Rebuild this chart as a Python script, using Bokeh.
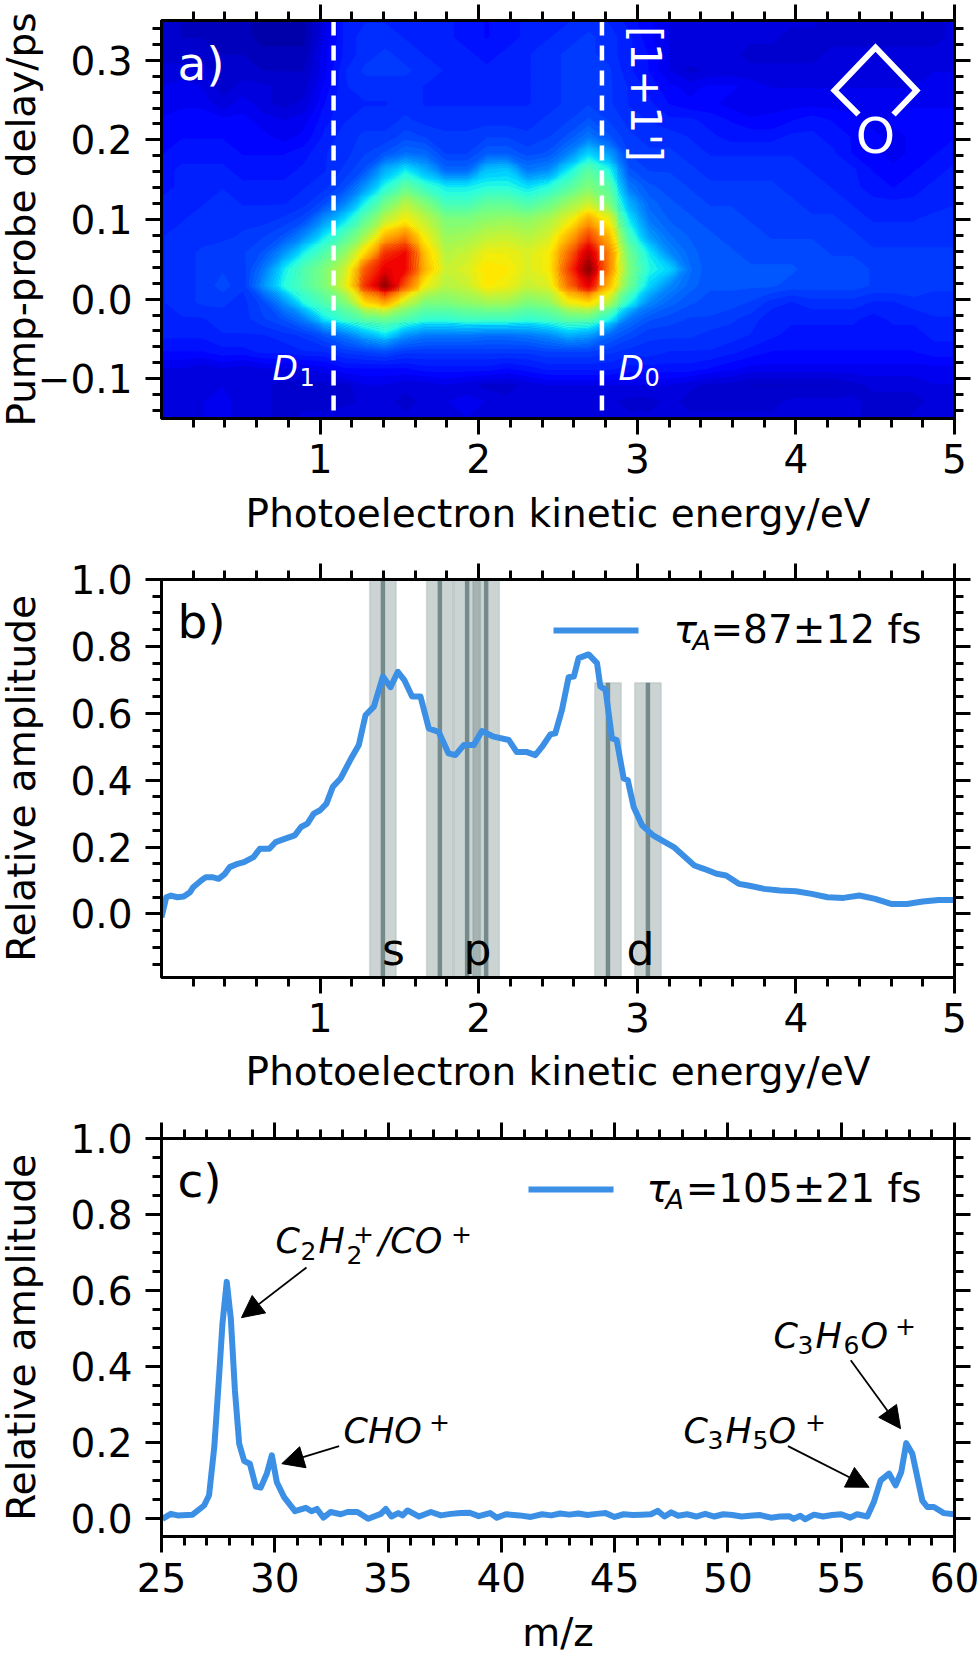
import numpy as np
from bokeh.plotting import figure
from bokeh.layouts import column
from bokeh.embed import file_html
from bokeh.resources import INLINE
from bokeh.models import Range1d, LinearAxis, FixedTicker, LinearColorMapper, Arrow, NormalHead, CustomLabelingPolicy
from bokeh.core.properties import value

# ---------- data ----------
HEAT_ROWS_TOP_DOWN = [  # percent; delay 0.35 ps (top) to -0.15 ps (bottom); 40 energies 0..5 eV
[7,6,5,5,5,4,4,4,9,14,15,15,15,14,14,13,12,13,14,14,15,16,15,13,11,9,8,9,9,8,8,8,8,7,7,7,7,7,7,8],
[7,6,6,6,5,4,4,4,9,14,16,16,15,14,14,13,12,13,14,15,16,17,16,14,11,9,8,9,9,8,8,7,7,7,7,7,7,7,7,8],
[7,7,7,6,6,5,5,5,10,14,16,17,16,15,15,14,13,14,15,16,17,17,16,14,12,9,9,9,8,7,7,7,7,8,8,8,8,8,8,8],
[8,8,8,7,7,6,6,6,10,15,17,17,17,16,15,15,14,15,15,16,17,18,17,14,12,9,7,8,8,8,8,8,8,9,9,9,9,9,9,9],
[9,10,9,7,8,8,7,7,11,15,16,16,16,15,15,14,14,15,15,16,17,18,17,15,13,11,10,11,11,10,9,9,9,9,9,9,9,9,10,10],
[9,10,10,8,10,8,7,8,12,15,15,15,16,15,15,15,15,15,15,16,17,18,17,15,14,12,11,11,10,9,10,10,10,10,10,10,10,10,10,10],
[11,12,12,11,11,10,9,10,13,15,16,16,17,16,16,16,16,16,16,17,18,20,18,16,15,14,14,13,12,11,11,12,13,12,11,10,11,12,12,12],
[11,12,12,12,11,11,10,11,14,16,17,17,19,18,17,17,18,18,17,18,20,24,20,17,16,16,15,14,13,13,13,14,14,13,12,11,10,11,12,12],
[12,13,13,13,12,12,12,13,15,16,18,20,23,22,18,18,21,21,19,20,25,34,28,18,17,17,16,15,15,15,15,15,15,14,12,11,10,11,12,13],
[13,14,14,14,13,13,13,14,15,17,20,30,36,30,22,22,32,33,24,26,36,45,38,20,18,18,17,16,16,16,16,16,15,15,14,12,11,12,13,14],
[13,14,15,15,14,14,14,15,16,19,27,38,46,40,36,36,38,38,35,38,44,50,45,24,20,19,18,17,17,17,17,16,16,15,14,13,12,13,14,14],
[14,15,15,16,15,15,15,16,19,25,37,48,56,50,42,42,46,46,43,47,53,58,50,30,22,20,19,18,18,18,17,17,16,16,15,14,14,14,14,15],
[14,15,16,16,16,16,17,19,27,35,46,57,63,57,50,50,52,53,52,55,61,72,62,36,24,21,20,19,19,18,18,17,17,17,16,15,15,15,16,16],
[15,16,16,16,17,18,20,26,36,44,54,70,76,62,53,54,57,58,56,59,70,82,70,42,28,23,21,20,19,19,18,18,18,18,17,16,16,16,16,16],
[15,16,17,18,18,20,27,37,44,52,66,84,88,68,56,58,62,62,60,63,78,93,76,48,36,26,22,20,20,19,19,19,19,18,18,17,17,17,17,17],
[15,16,17,18,17,24,36,44,50,58,80,90,88,70,58,60,65,64,60,63,82,99,76,50,38,34,23,20,20,20,20,20,19,19,19,18,18,18,17,17],
[15,16,17,19,17,27,38,44,50,60,84,98,80,62,56,58,64,62,58,60,78,90,70,48,34,26,22,20,20,20,20,19,19,19,19,18,18,18,17,17],
[15,16,17,17,16,19,27,38,44,50,66,72,58,50,50,52,54,54,50,52,62,66,56,38,26,22,20,19,19,18,16,15,16,16,16,15,15,16,16,16],
[14,15,15,16,16,18,20,25,36,41,46,48,44,40,40,42,42,42,40,42,46,46,38,24,20,19,18,18,17,16,14,14,14,14,14,13,14,14,15,15],
[14,14,14,15,15,15,16,17,20,24,30,35,27,24,24,24,23,23,24,26,30,28,22,19,17,17,17,16,16,15,14,13,13,13,13,13,13,13,14,14],
[12,12,12,13,13,14,14,15,15,17,18,19,17,17,17,17,17,17,17,18,18,18,17,16,16,15,15,15,14,13,12,12,12,12,12,12,12,12,13,13],
[9,9,8,9,8,9,9,9,10,12,12,12,12,13,13,13,13,12,13,14,14,14,14,13,13,13,13,12,11,10,10,10,10,10,10,10,10,10,10,10],
[8,9,8,9,8,8,7,7,7,7,9,9,8,8,9,8,7,7,8,9,9,9,9,9,9,9,8,7,7,6,6,6,6,6,7,8,8,8,9,9],
[8,9,9,10,8,8,7,7,7,7,8,8,7,8,9,10,9,8,8,8,8,8,8,7,7,8,7,7,7,7,7,8,8,8,8,7,7,7,8,9],
[8,9,9,10,8,8,7,8,8,9,9,9,8,8,9,9,8,8,8,9,9,9,9,8,8,8,8,8,8,8,8,9,9,9,8,7,7,8,8,9],
]
D_LINES = [1.085, 2.777]

B_X = [0.0,0.03,0.06,0.1,0.14,0.18,0.2,0.25,0.28,0.32,0.36,0.4,0.43,0.48,0.52,0.58,0.62,0.68,0.72,0.78,0.84,0.88,0.92,0.96,1.0,1.04,1.08,1.129,1.19,1.244,1.286,1.339,1.396,1.444,1.49,1.53,1.58,1.633,1.685,1.748,1.81,1.853,1.906,1.969,2.02,2.095,2.19,2.24,2.305,2.357,2.40,2.452,2.483,2.525,2.567,2.6,2.63,2.693,2.746,2.767,2.80,2.84,2.87,2.914,2.94,2.977,3.03,3.10,3.155,3.23,3.3,3.36,3.42,3.5,3.56,3.64,3.7,3.8,3.9,4.0,4.1,4.2,4.3,4.4,4.5,4.6,4.7,4.8,4.9,5.0]
B_Y = [-0.01,0.05,0.055,0.05,0.052,0.065,0.08,0.1,0.11,0.11,0.105,0.12,0.14,0.15,0.155,0.17,0.195,0.195,0.215,0.225,0.235,0.26,0.27,0.3,0.31,0.33,0.38,0.405,0.46,0.505,0.594,0.62,0.71,0.678,0.724,0.70,0.65,0.65,0.555,0.544,0.48,0.475,0.505,0.505,0.547,0.53,0.52,0.484,0.484,0.475,0.50,0.537,0.54,0.61,0.708,0.71,0.765,0.776,0.75,0.68,0.67,0.525,0.52,0.405,0.40,0.32,0.265,0.235,0.22,0.2,0.17,0.145,0.135,0.12,0.115,0.09,0.085,0.075,0.07,0.068,0.06,0.05,0.048,0.055,0.045,0.03,0.03,0.037,0.042,0.042]
ORB_S_P = [1.396, 1.755, 1.927, 2.047]
ORB_D = [2.815, 3.067]
ORB_S_P_TOP = 1.0
ORB_D_TOP = 0.691
ORB_HALF = 0.084

C_X = [25.04,25.41,25.71,26.37,26.88,27.1,27.33,27.55,27.69,27.88,28.06,28.24,28.43,28.65,28.9,29.16,29.38,29.65,29.87,30.09,30.41,30.89,31.37,31.62,31.86,32.15,32.47,32.91,33.21,33.65,34.12,34.68,34.9,35.15,35.45,35.64,35.86,36.37,36.89,37.33,37.77,38.2,38.6,39,39.5,39.8,40.2,40.8,41.3,41.8,42.2,42.6,43,43.4,43.8,44.2,44.6,45,45.4,45.8,46.2,46.6,46.9,47.2,47.5,47.8,48.2,48.6,49,49.4,49.8,50.2,50.6,51.1,51.4,51.9,52.3,52.7,52.9,53.2,53.4,53.8,54.2,54.6,55,55.4,55.7,56.15,56.44,56.74,57.11,57.4,57.65,57.87,58.14,58.58,58.8,59.09,59.53,59.97]
C_Y = [0.0,0.013,0.009,0.011,0.035,0.062,0.189,0.382,0.513,0.623,0.526,0.338,0.197,0.152,0.145,0.085,0.082,0.119,0.167,0.096,0.057,0.02,0.029,0.02,0.026,0.003,0.018,0.012,0.018,0.018,0.0,0.013,0.026,0.006,0.015,0.009,0.022,0.006,0.018,0.009,0.013,0.015,0.016,0.007,0.015,0.003,0.012,0.009,0.005,0.012,0.009,0.014,0.011,0.014,0.01,0.013,0.015,0.005,0.012,0.01,0.011,0.012,0.021,0.006,0.017,0.008,0.012,0.006,0.013,0.006,0.012,0.01,0.006,0.009,0.01,0.003,0.006,0.007,0.0,0.008,-0.001,0.011,0.006,0.01,0.012,0.003,0.012,0.006,0.044,0.101,0.119,0.088,0.123,0.199,0.171,0.048,0.031,0.031,0.015,0.012]

ARROWS_C = [  # x_start, y_start, x_tip, y_tip
    (31.4, 0.661, 28.53, 0.529),
    (32.84, 0.191, 30.31, 0.145),
    (55.42, 0.417, 57.62, 0.237),
    (52.65, 0.191, 56.23, 0.083),
]
# ion labels as runs of text: text, left px, baseline px, size px, italic
ION_RUNS = [
    ("C", 275, 1251, 35, True), ("2", 300, 1258, 25, False), ("H", 318, 1251, 35, True), ("2", 346, 1262, 25, False),
    ("+", 352.5, 1241, 25, False), ("/CO", 378, 1251, 35, True), ("+", 450.5, 1241, 25, False),
    ("CHO", 343, 1441.7, 35, True), ("+", 428.5, 1429.5, 25, False),
    ("C", 773, 1346.7, 35, True), ("3", 797, 1352.7, 25, False), ("H", 815, 1346.7, 35, True), ("6", 843, 1352.7, 25, False),
    ("O", 860, 1346.7, 35, True), ("+", 894.5, 1333, 25, False),
    ("C", 683, 1441.7, 35, True), ("3", 707, 1447.7, 25, False), ("H", 725, 1441.7, 35, True), ("5", 752, 1447.7, 25, False),
    ("O", 768, 1441.7, 35, True), ("+", 804.5, 1429.5, 25, False),
]
LEGEND_TAIL = ["=87±12 fs", "=105±21 fs"]

# ---------- style ----------
FONT = "DejaVu Sans"
TICK_PX = "39px"
LABEL_PX = "39px"
BLUE = "#3b90e6"
stops = [(0, (0, 0, 127)), (.11, (0, 0, 255)), (.35, (0, 220, 255)), (.38, (40, 255, 225)), (.5, (124, 255, 122)),
         (.64, (255, 235, 0)), (.75, (255, 140, 0)), (.89, (240, 0, 0)), (1, (127, 0, 0))]
def jet_at(v):
    return "#%02x%02x%02x" % tuple(int(np.interp(v, [s[0] for s in stops], [s[1][i] for s in stops])) for i in range(3))
jet = [jet_at(v) for v in np.linspace(0, 1, 256)]

L, R, FW, FH = 161, 954, 793, 398
DX, DY = 8, 8   # compensation of the page offset


def make(xr, yr, top_border, bot_border):
    p = figure(frame_width=FW, frame_height=FH, x_range=Range1d(*xr), y_range=Range1d(*yr),
               output_backend="svg", toolbar_location=None, min_border_left=L + DX, min_border_right=980 - R,
               min_border_top=top_border, min_border_bottom=bot_border, x_axis_location=None, y_axis_location=None)
    p.grid.visible = False
    p.outline_line_color = "black"
    p.outline_line_width = 3
    p.background_fill_color = "white"
    return p


NO_LABELS = CustomLabelingPolicy(code="for (const i of Array.from(indices)) { indices.unset(i); } return indices;")


def style_axis(a, ticks, minors, overrides, show, label=None, standoff=0, lab_so=0):
    a.ticker = FixedTicker(ticks=ticks, minor_ticks=minors)
    a.major_label_overrides = overrides
    a.axis_line_width = 3
    a.major_tick_line_width = 3
    a.minor_tick_line_width = 3
    a.major_tick_in = 0
    a.minor_tick_in = 0
    a.major_tick_out = 16
    a.minor_tick_out = 9
    a.major_label_text_font = FONT
    a.major_label_text_color = "black"
    a.major_label_standoff = standoff if show else 0
    if show:
        a.major_label_text_font_size = TICK_PX
    else:
        a.major_label_text_font_size = "1px"
        a.major_label_policy = NO_LABELS
    if label:
        a.axis_label = label
        a.axis_label_text_font = FONT
        a.axis_label_text_font_size = LABEL_PX
        a.axis_label_text_font_style = "normal"
        a.axis_label_text_color = "black"
        a.axis_label_standoff = lab_so


def add_axes(p, xt, xm, xo, yt, ym, yo, xlabel, ylabel, x_so, xl_so, y_so, yl_so):
    for side, show in (("below", True), ("above", False)):
        a = LinearAxis()
        style_axis(a, xt, xm, xo, show, xlabel if show else None, x_so, xl_so)
        p.add_layout(a, side)
    for side, show in (("left", True), ("right", False)):
        a = LinearAxis()
        style_axis(a, yt, ym, yo, show, ylabel if show else None, y_so, yl_so)
        p.add_layout(a, side)


def txt(p, fx, fy, px, py, s, size, color="black", italic=False, align="left", base="alphabetic", angle=0):
    # px, py: picture position; baseline correction so that the alphabetic baseline lands on py
    yy = py - 0.31 * size if base == "alphabetic" else py
    p.text([fx(px)], [fy(yy)], text=[s], text_font=value(FONT), text_font_size=value(f"{size}px"), text_color=color,
           text_font_style="italic" if italic else "normal", text_align=align, text_baseline=base, angle=angle)


E_TICKS = [1, 2, 3, 4, 5]
E_MINOR = [round(0.2 * i, 1) for i in range(1, 25)]
E_LAB = {i: str(i) for i in E_TICKS}
XLAB = "Photoelectron kinetic energy/eV"

# ---------- panel a ----------
p1 = make((0, 5), (-0.15, 0.35), 20 + DY, 122)
ax_ = lambda px: (px - L) / FW * 5
ay_ = lambda py: 0.35 - (py - 20) / FH * 0.5
heat = np.array(HEAT_ROWS_TOP_DOWN, dtype=float)[::-1]
heat_x = np.linspace(0, 5, heat.shape[1])
heat_y = np.linspace(-0.15, 0.35, heat.shape[0])
p1.image(image=[heat], x=0, y=-0.15, dw=5, dh=0.5,
         color_mapper=LinearColorMapper(palette=jet, low=0, high=100))
levels = list(np.linspace(0, 100, 67))
p1.contour(heat_x, heat_y, heat, levels, fill_color=[jet_at((levels[i] + levels[i + 1]) / 200) for i in range(66)],
           line_color=None)
for d in D_LINES:
    p1.line([d, d], [0.35, -0.141], line_color="white", line_width=4.5, line_dash="15 10")
add_axes(p1, E_TICKS, E_MINOR, E_LAB,
         [-0.1, 0.0, 0.1, 0.2, 0.3], [round(-0.14 + 0.02 * i, 2) for i in range(25)],
         {-0.1: "−0.1", 0.0: "0.0", 0.1: "0.1", 0.2: "0.2", 0.3: "0.3"},
         XLAB, "Pump-probe delay/ps", 9, 15, 13, -9)
txt(p1, ax_, ay_, 177, 78, "a)", 47, "white")
txt(p1, ax_, ay_, 272, 378, "D", 33, "white", italic=True)
txt(p1, ax_, ay_, 299, 384, "1", 24, "white")
txt(p1, ax_, ay_, 618, 378, "D", 33, "white", italic=True)
txt(p1, ax_, ay_, 644, 384, "0", 24, "white")
txt(p1, ax_, ay_, 645, 93.5, "[1+1']", 43, "white", align="center", base="middle", angle=-np.pi / 2)
p1.line([ax_(858), ax_(834), ax_(875), ax_(916), ax_(893)], [ay_(114), ay_(90), ay_(47), ay_(90), ay_(114)],
        line_color="white", line_width=6, line_join="miter")
txt(p1, ax_, ay_, 875, 135, "O", 50, "white", align="center", base="middle")

# ---------- panel b ----------
p2 = make((0, 5), (-0.19, 1.0), 39, 123)
bx = lambda px: (px - L) / FW * 5
by = lambda py: 1.0 - (py - 579) / FH * 1.19
bands = [(c, ORB_S_P_TOP) for c in ORB_S_P] + [(c, ORB_D_TOP) for c in ORB_D]
for c, t in bands:
    p2.vbar(x=[c], width=2 * ORB_HALF, top=[t], bottom=[-0.19], fill_color="#2f4f4f", fill_alpha=0.25,
            line_color="#2f4f4f", line_alpha=0.12, line_width=1.5)
for c, t in bands:
    p2.vbar(x=[c], width=0.028, top=[t], bottom=[-0.19], fill_color="#2f4f4f", fill_alpha=0.55, line_color=None)
p2.line(B_X, B_Y, line_color=BLUE, line_width=6, line_join="round")
add_axes(p2, E_TICKS, E_MINOR, E_LAB,
         [0.0, 0.2, 0.4, 0.6, 0.8, 1.0], [round(-0.15 + 0.05 * i, 2) for i in range(24)],
         {0.0: "0.0", 0.2: "0.2", 0.4: "0.4", 0.6: "0.6", 0.8: "0.8", 1.0: "1.0"},
         XLAB, "Relative amplitude", 9, 14, 13, 23)
txt(p2, bx, by, 177, 636, "b)", 47)
txt(p2, bx, by, 393, 963, "s", 44, align="center")
txt(p2, bx, by, 477, 963, "p", 44, align="center")
txt(p2, bx, by, 640, 963, "d", 44, align="center")
p2.line([bx(553), bx(638)], [by(630), by(630)], line_color=BLUE, line_width=6)
txt(p2, bx, by, 673, 641, "τ", 39, italic=True)
txt(p2, bx, by, 692, 648, "A", 27, italic=True)
txt(p2, bx, by, 921, 641, LEGEND_TAIL[0], 39, align="right")

# ---------- panel c ----------
p3 = make((25, 60), (-0.0465, 1.0), 38, 114)
cx = lambda px: 25 + (px - L) / FW * 35
cy = lambda py: 1.0 - (py - 1138) / FH * 1.0465
p3.line(C_X, C_Y, line_color=BLUE, line_width=6, line_join="round")
add_axes(p3, list(range(25, 61, 5)), [i for i in range(26, 60) if i % 5],
         {i: str(i) for i in range(25, 61, 5)},
         [0.0, 0.2, 0.4, 0.6, 0.8, 1.0], [round(0.05 * i, 2) for i in range(21)],
         {0.0: "0.0", 0.2: "0.2", 0.4: "0.4", 0.6: "0.6", 0.8: "0.8", 1.0: "1.0"},
         "m/z", "Relative amplitude", 10, 15, 13, 23)
txt(p3, cx, cy, 177, 1195, "c)", 47)
p3.line([cx(528), cx(613)], [cy(1189), cy(1189)], line_color=BLUE, line_width=6)
txt(p3, cx, cy, 646, 1200, "τ", 39, italic=True)
txt(p3, cx, cy, 665, 1207, "A", 27, italic=True)
txt(p3, cx, cy, 921, 1200, LEGEND_TAIL[1], 39, align="right")
for s, px, py, size, it in ION_RUNS:
    txt(p3, cx, cy, px, py, s, size, italic=it)
for x0, y0, x1, y1 in ARROWS_C:
    p3.add_layout(Arrow(end=NormalHead(size=22, fill_color="black", line_color="black", line_width=1),
                        x_start=x0, y_start=y0, x_end=x1, y_end=y1, line_color="black", line_width=1.8))

layout = column(p1, p2, p3, spacing=0, margin=(-8, 0, 0, -8))
open("out.html", "w").write(file_html(layout, INLINE))
